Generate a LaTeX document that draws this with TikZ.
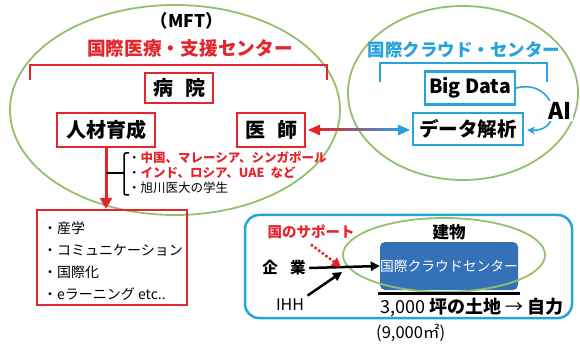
\documentclass[tikz,border=0pt]{standalone}
\usepackage{fontspec}
\setmainfont{Noto Sans CJK JP}
\usetikzlibrary{arrows.meta,calc}
\definecolor{myred}{HTML}{E3262C}
\definecolor{mycyan}{HTML}{27A3DB}
\definecolor{mygreen}{HTML}{93BF6E}
\definecolor{myblue}{HTML}{3471B6}
\newcommand\fsz[1]{\fontsize{#1}{#1}\selectfont}
\begin{document}
\begin{tikzpicture}[x=1pt,y=-1pt,
  greenline/.style={draw=mygreen,line width=1.8pt},
  redbox/.style={draw=myred,line width=2.2pt,fill=white,inner sep=0pt,font=\bfseries\fsz{20}},
  cyanbox/.style={draw=mycyan,line width=2.2pt,fill=white,inner sep=0pt,font=\bfseries\fsz{19.5}},
  redline/.style={draw=myred,line width=2pt},
  cyanline/.style={draw=mycyan,line width=2pt},
  item/.style={anchor=west,inner sep=0pt},
]
\useasboundingbox (0,0) rectangle (580,347);
% ellipses
\draw[greenline] (175,110) ellipse [x radius=165, y radius=105];
\draw[greenline] (463,93) ellipse [x radius=115, y radius=87];

% left titles
\node[font=\bfseries\fsz{17.5}] (mft) at (187,21) {（MFT）};
\node[font=\bfseries\fsz{18.7},text=myred] (medtitle) at (190,48) {国際医療・支援センター};
\draw[redline] (30,80) -- (30,65) -- (327,65) -- (327,80);

\node[redbox,minimum width=68pt,minimum height=30pt] (byoin) at (179,88) {病\hspace{0.6em}院};
\node[redbox,minimum width=98pt,minimum height=34pt] (jinzai) at (106,130) {人材育成};
\node[redbox,minimum width=68pt,minimum height=34pt] (ishi) at (271,130) {医\hspace{0.6em}師};

% right titles
\node[font=\bfseries\fsz{17.5},text=mycyan] (cloudtitle) at (464,50) {国際クラウド・センター};
\draw[cyanline] (380,82) -- (380,63) -- (547,63) -- (547,82);
\node[cyanbox,minimum width=90pt,minimum height=33pt] (bigdata) at (470,88) {Big Data};
\node[cyanbox,minimum width=110pt,minimum height=32pt] (data) at (468,129) {データ解析};

% AI curve
\draw[cyanline,line width=1.6pt,-{Stealth[length=8pt,width=8pt]}] (bigdata.east) .. controls (556,78) and (566,132) .. ($(data.east)+(3,1)$);
\node[fill=white,inner sep=1pt,font=\bfseries\fsz{23}] (ai) at (560,111) {AI};

% double gradient arrow
\shade[left color=myred,right color=mycyan] ($(ishi.east)+(12,-1.6)$) rectangle ($(data.west)+(-12,1.6)$);
\fill[myred] ($(ishi.east)+(2,0)$) -- ++(12,-5.5) -- ++(0,11) -- cycle;
\fill[mycyan] ($(data.west)+(-2,1)$) -- ++(-12,-5.5) -- ++(0,11) -- cycle;

% lower left
\node[draw=myred,line width=2.2pt,minimum width=150pt,minimum height=95pt,inner sep=0pt] (list) at (112,257.5) {};
\draw[myred,line width=3pt,-{Triangle[length=11pt,width=12pt]}] (jinzai.south) -- (jinzai.south |- list.north);
\draw[line width=1.5pt] (106,173) -- (124,173);
\draw[line width=1.5pt,rounded corners=2pt] (129,153) -- (124,153) -- (124,195) -- (129,195);
\node[item,font=\bfseries\fsz{12.5}] (c1) at (128,158) {{\mdseries・}\textcolor{myred}{中国、マレーシア、シンガポール}};
\node[item,font=\bfseries\fsz{12.5}] (c2) at (128,173) {{\mdseries・}\textcolor{myred}{インド、ロシア、UAE\hspace{0.5em}など}};
\node[item,font=\fsz{12.5}] (c3) at (128,188) {・旭川医大の学生};

\node[item,font=\fsz{14}] (l1) at (43,228) {・産学};
\node[item,font=\fsz{14}] (l2) at (43,250) {・コミュニケーション};
\node[item,font=\fsz{14}] (l3) at (43,272) {・国際化};
\node[item,font=\fsz{14}] (l4) at (43,294) {・eラーニング etc..};

% lower right
\node[draw=mycyan,line width=2.5pt,rounded corners=14pt,minimum width=327pt,minimum height=103pt,inner sep=0pt] (frame) at (408.5,266.5) {};
\node[fill=myblue,rounded corners=5pt,minimum width=138pt,minimum height=48pt,inner sep=0pt,text=white,font=\fsz{13.8}] (cloud) at (449,266) {国際クラウドセンター};
\draw[greenline] (444,255) ellipse [x radius=101, y radius=37];
\node[font=\bfseries\fsz{16.5}] (tatemono) at (449,232) {建物};
\coordinate (ul) at (378,293);
\coordinate (ur) at (520,293);
\draw[line width=3pt] (ul) -- (ur);
\node[item,font=\bfseries\fsz{18}] (land) at (380,308) {{\mdseries 3,000} 坪の土地 {\mdseries →} 自力};
\node[item,font=\fsz{16.5}] (area) at (376,333) {(9,000㎡)};

\node[font=\bfseries\fsz{14.5},text=myred] (support) at (311,232) {国のサポート};
\node[font=\bfseries\fsz{15.5}] (kigyo) at (284,268) {企\hspace{0.8em}業};
\node[font=\fsz{16}] (ihh) at (290,305) {IHH};
\coordinate (J) at (341,268);
\draw[line width=2.5pt,-{Triangle[length=9pt,width=9pt]}] (kigyo.east) -- (cloud.west);
\draw[line width=2.5pt,-{Triangle[length=9pt,width=9pt]}] (ihh.north east) -- ($(J)+(1,4)$);
\draw[myred,line width=2.5pt,dotted,-{Triangle[length=9pt,width=10pt]}] ($(support.south)+(0,2)$) -- ($(J)+(0,-1)$);
\end{tikzpicture}
\end{document}
